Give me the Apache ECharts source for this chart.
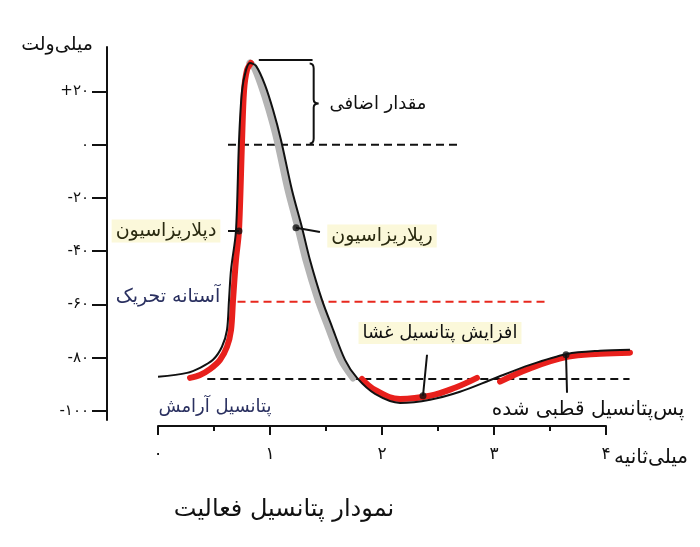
<!DOCTYPE html>
<html>
<head>
<meta charset="utf-8">
<script src="https://cdn.jsdelivr.net/npm/echarts@6/dist/echarts.min.js"></script>
<style>
html,body{margin:0;padding:0;background:#fff;}
#c{width:700px;height:547px;}
</style>
</head>
<body>
<div id="c"></div>
<script>
// ---- data (time in ms, potential in mV) ----
const tBlack = [0, 0.259, 0.375, 0.491, 0.571, 0.616, 0.634, 0.652, 0.696, 0.723, 0.75, 0.786, 0.821, 0.875, 0.955, 1.027, 1.098, 1.196, 1.286, 1.357, 1.464, 1.554, 1.670, 1.777, 1.938, 2.161, 2.429, 2.696, 2.991, 3.321, 3.652, 3.946, 4.214];
const vBlack = [-87.2, -85.7, -83.8, -80.8, -75.9, -69.6, -58.3, -47.0, -32.4, 1.0, 20.2, 28.1, 30.7, 29.6, 22.5, 13.1, 1.8, -17, -31.2, -43.3, -58.3, -68.4, -80.8, -87.6, -93.6, -97, -95.8, -92.8, -88, -82.7, -78.6, -77.4, -77.0];

const tRise = [0.286, 0.375, 0.464, 0.554, 0.616, 0.652, 0.670, 0.696, 0.723, 0.75, 0.768, 0.795, 0.830];
const vRise = [-87.6, -86.5, -84.3, -80.8, -75.9, -69.6, -58.3, -43.3, -32.4, 1.0, 20.2, 28.1, 30.7];

const tFall = [0.821, 0.857, 0.920, 0.991, 1.063, 1.161, 1.25, 1.321, 1.429, 1.518, 1.634, 1.741];
const vFall = [30.7, 29.2, 22.5, 13.1, 1.8, -17, -31.2, -43.3, -58.3, -68.4, -80.8, -87.6];

const tTrough = [1.821, 1.938, 2.161, 2.429, 2.652, 2.848];
const vTrough = [-88, -92.1, -95.5, -94.3, -91.3, -87.6];

const tTail = [3.054, 3.321, 3.652, 3.946, 4.214];
const vTail = [-89, -84, -79.7, -78.5, -78.1];

const restingLevel = -88, restingSpan = [0.44, 4.21];
const zeroLevel = 0, zeroSpan = [0.625, 2.67];
const thresholdLevel = -59, thresholdSpan = [0.71, 3.46];
const overshootLevel = 31.8, overshootSpan = [0.9, 1.38];
const braceData = [[1.39, 30.5, 0.5]];

const dotPoints = [[0.723, -32.4], [1.232, -31.2], [2.366, -94.3], [3.643, -78.9]];
const leaderEnds = [[0.625, -32.4], [1.446, -32.8], [2.402, -78.9], [3.652, -93.2]];

const yMajorTicks = [-100, -80, -60, -40, -20, 0, 20];
const yMinorTicks = [-90, -70, -50, -30, -10, 10, 30];
const xTicks = [0, 1, 2, 3, 4];

// ---- helpers ----
const FA = '۰۱۲۳۴۵۶۷۸۹';
const toFa = n => String(n).replace(/\d/g, d => FA[d]);
const zip = (a, b) => a.map((v, i) => [v, b[i]]);
const FONT = "'DejaVu Sans'";

const leaderData = [];
dotPoints.forEach((p, i) => { leaderData.push(p, leaderEnds[i], '-'); });

function dashed(level, span, color) {
  return {
    type: 'line', xAxisIndex: 0, yAxisIndex: 0, symbol: 'none', silent: true,
    data: [[span[0], level], [span[1], level]],
    lineStyle: { color: color, width: 2, type: [8, 5] }, z: 2
  };
}

const chart = echarts.init(document.getElementById('c'), null, { renderer: 'canvas' });

function txt(text, x, y, size, color, bg) {
  const st = { text: text, fill: color, font: size + 'px ' + FONT, align: 'center', verticalAlign: 'middle' };
  if (bg) { st.backgroundColor = bg; st.padding = [2, 4]; }
  return { type: 'text', x: x, y: y, style: st, z: 100 };
}

const axisLineOff = { show: true, onZero: false, lineStyle: { color: '#111', width: 2 } };

const option = {
  animation: false,
  backgroundColor: '#ffffff',
  grid: [
    { left: 158, right: 38, top: 47, bottom: 127 },
    { left: 158, right: 94, top: 47, bottom: 127 }
  ],
  xAxis: [
    { gridIndex: 0, type: 'value', min: 0, max: 4.5, show: false, axisLine: { onZero: false } },
    {
      gridIndex: 1, type: 'value', min: 0, max: 4, interval: 1, offset: 6,
      axisLine: axisLineOff,
      axisTick: { show: true, length: 9, lineStyle: { color: '#111', width: 2 } },
      minorTick: { show: true, splitNumber: 2, length: 5, lineStyle: { color: '#111', width: 2 } },
      splitLine: { show: false },
      axisLabel: { margin: 20, color: '#111', fontSize: 17, fontFamily: FONT, formatter: v => toFa(v) }
    }
  ],
  yAxis: [
    {
      gridIndex: 0, type: 'value', min: -103.4, max: 36.7, offset: 51,
      axisLine: axisLineOff,
      axisTick: { show: true, length: 15, customValues: yMajorTicks, lineStyle: { color: '#111', width: 2 } },
      splitLine: { show: false },
      axisLabel: {
        customValues: yMajorTicks, margin: 18, color: '#111', fontSize: 15, fontFamily: FONT,
        formatter: v => (v > 0 ? '+' : (v < 0 ? '-' : '')) + toFa(Math.abs(v))
      }
    },
    {
      gridIndex: 0, type: 'value', min: -103.4, max: 36.7, offset: 51,
      axisLine: { show: false, onZero: false },
      axisTick: { show: true, length: 8, customValues: yMinorTicks, lineStyle: { color: '#111', width: 2 } },
      splitLine: { show: false }, axisLabel: { show: false }
    },
    {
      gridIndex: 0, type: 'value', min: -103.4, max: 36.7, offset: 51,
      axisLine: { show: false, onZero: false },
      axisTick: { show: true, inside: true, length: 11, customValues: [0], lineStyle: { color: '#111', width: 2 } },
      splitLine: { show: false }, axisLabel: { show: false }
    },
    { gridIndex: 1, type: 'value', min: -103.4, max: 36.7, show: false, axisLine: { onZero: false } }
  ],
  series: [
    dashed(restingLevel, restingSpan, '#111'),
    dashed(zeroLevel, zeroSpan, '#111'),
    dashed(thresholdLevel, thresholdSpan, '#e8281e'),
    {
      type: 'line', xAxisIndex: 0, yAxisIndex: 0, symbol: 'none', silent: true,
      data: [[overshootSpan[0], overshootLevel], [overshootSpan[1], overshootLevel]],
      lineStyle: { color: '#111', width: 2 }, z: 2
    },
    {
      type: 'custom', xAxisIndex: 0, yAxisIndex: 0, data: braceData, silent: true, z: 2,
      renderItem: function (params, api) {
        const a = api.coord([api.value(0), api.value(1)]);
        const b = api.coord([api.value(0), api.value(2)]);
        const x = a[0], y1 = a[1], y2 = b[1], m = (y1 + y2) / 2;
        const d = 'M' + (x - 4) + ',' + y1 + ' Q' + x + ',' + y1 + ' ' + x + ',' + (y1 + 5) +
          ' L' + x + ',' + (m - 4) + ' Q' + x + ',' + m + ' ' + (x + 5) + ',' + m +
          ' Q' + x + ',' + m + ' ' + x + ',' + (m + 4) +
          ' L' + x + ',' + (y2 - 5) + ' Q' + x + ',' + y2 + ' ' + (x - 4) + ',' + y2;
        return { type: 'path', shape: { pathData: d }, style: { stroke: '#111', lineWidth: 2, fill: 'none' } };
      }
    },
    {
      type: 'line', xAxisIndex: 0, yAxisIndex: 0, symbol: 'none', smooth: 0.3,
      data: zip(tFall, vFall), lineStyle: { color: '#b4b4b4', width: 7, cap: 'round' }, z: 3
    },
    {
      type: 'line', xAxisIndex: 0, yAxisIndex: 0, symbol: 'none', smooth: 0.3,
      data: zip(tRise, vRise), lineStyle: { color: '#e8201c', width: 6, cap: 'round' }, z: 3
    },
    {
      type: 'line', xAxisIndex: 0, yAxisIndex: 0, symbol: 'none', smooth: 0.4,
      data: zip(tTrough, vTrough), lineStyle: { color: '#e8201c', width: 6, cap: 'round' }, z: 3
    },
    {
      type: 'line', xAxisIndex: 0, yAxisIndex: 0, symbol: 'none', smooth: 0.4,
      data: zip(tTail, vTail), lineStyle: { color: '#e8201c', width: 6, cap: 'round' }, z: 3
    },
    {
      type: 'line', xAxisIndex: 0, yAxisIndex: 0, symbol: 'none', smooth: 0.3,
      data: zip(tBlack, vBlack), lineStyle: { color: '#111', width: 2 }, z: 4
    },
    {
      type: 'line', xAxisIndex: 0, yAxisIndex: 0, symbol: 'none', connectNulls: false,
      data: leaderData, lineStyle: { color: '#111', width: 2 }, z: 5
    },
    {
      type: 'scatter', xAxisIndex: 0, yAxisIndex: 0, symbol: 'circle', symbolSize: 7,
      data: dotPoints, itemStyle: { color: '#111' }, z: 6
    }
  ],
  graphic: [
    txt('میلی‌ولت', 57, 45, 19, '#111'),
    txt('مقدار اضافی', 378, 104, 18, '#111'),
    txt('رپلاریزاسیون', 382, 236, 19, '#2a2a10', '#fbf8da'),
    txt('دپلاریزاسیون', 166, 231, 19, '#2a2a10', '#fbf8da'),
    txt('آستانه تحریک', 168, 297, 19, '#2a3060'),
    txt('افزایش پتانسیل غشا', 440, 333, 18, '#111', '#fbf8da'),
    txt('پس‌پتانسیل قطبی شده', 588, 410, 20, '#111'),
    txt('پتانسیل آرامش', 215, 407, 18, '#2a3060'),
    txt('میلی‌ثانیه', 651, 458, 20, '#111'),
    txt('نمودار پتانسیل فعالیت', 284, 510, 24, '#111')
  ]
};
chart.setOption(option);
</script>
</body>
</html>
